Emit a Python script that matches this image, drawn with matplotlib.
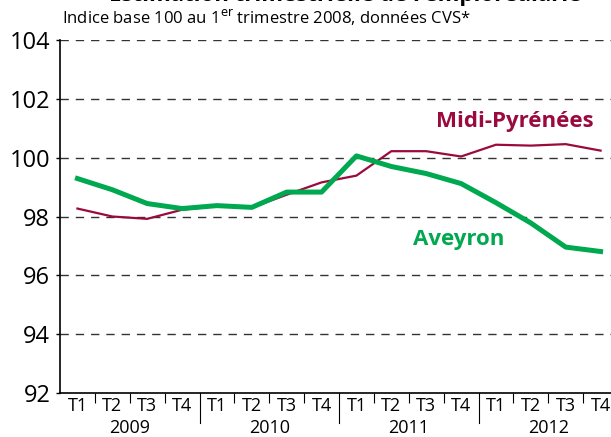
import matplotlib
matplotlib.use('Agg')
import numpy as np
import matplotlib.pyplot as plt

# quarterly index values, base 100 at Q1 2008
quarters = ['T1', 'T2', 'T3', 'T4'] * 4
years = ['2009', '2010', '2011', '2012']
midi_pyrenees = [98.27, 98.00, 97.92, 98.23, 98.35, 98.30, 98.74, 99.16,
                 99.39, 100.22, 100.22, 100.04, 100.44, 100.41, 100.46, 100.24]
aveyron = [99.29, 98.91, 98.44, 98.27, 98.37, 98.31, 98.83, 98.83,
           100.06, 99.70, 99.46, 99.12, 98.47, 97.78, 96.96, 96.81]
yticks = [92, 94, 96, 98, 100, 102, 104]

red = '#9b0a3e'
green = '#00a84f'
plt.rcParams['font.family'] = ['Open Sans', 'DejaVu Sans']

fig = plt.figure(figsize=(6.11, 4.37), dpi=100)
ax = fig.add_axes([60 / 611, 44 / 437, 558 / 611, 353 / 437])

x = np.arange(len(quarters))
ax.plot(x, midi_pyrenees, color=red, lw=1.6, zorder=3)
ax.plot(x, aveyron, color=green, lw=3.6, zorder=4, solid_joinstyle='round')

ax.set_xlim(-0.5, 15.5)
ax.set_ylim(92, 104)
ax.set_yticks(yticks)
ax.set_yticklabels([str(v) for v in yticks], fontsize=17)
ax.tick_params(axis='y', length=3, width=1, pad=4)
for v in yticks[1:]:
    ax.axhline(v, color='#333333', lw=1, ls=(0, (6, 5)), zorder=1)

for s in ['top', 'right']:
    ax.spines[s].set_visible(False)
for s in ['left', 'bottom']:
    ax.spines[s].set_linewidth(1.2)

# quarter separators and year separators below the axis
bounds = np.arange(-0.5, 15.6, 1)
minor = [b for i, b in enumerate(bounds) if i % 4 != 0]
major = [b for i, b in enumerate(bounds) if i % 4 == 0 and i > 0]
ax.set_xticks(major)
ax.set_xticklabels([])
ax.set_xticks(minor, minor=True)
ax.tick_params(axis='x', which='major', direction='in', length=0)
ax.tick_params(axis='x', which='minor', direction='out', length=7, width=0.8)
for b in major:
    ax.plot([b, b], [0, -0.085], transform=ax.get_xaxis_transform(),
            color='black', lw=0.8, clip_on=False)

trans = ax.get_xaxis_transform()
for i, q in enumerate(quarters):
    ax.text(i, -0.012, q, transform=trans, ha='center', va='top', fontsize=13)
for j, yr in enumerate(years):
    ax.text(4 * j + 1.5, -0.074, yr, transform=trans, ha='center', va='top',
            fontsize=13)

ax.text(12.55, 101.22, 'Midi-Pyrénées', color=red, fontsize=16,
        fontweight='bold', ha='center', va='center')
ax.text(10.93, 97.21, 'Aveyron', color=green, fontsize=16,
        fontweight='bold', ha='center', va='center')

fig.text(345 / 611, 1.01, "Estimation trimestrielle de l'emploi salarié",
         ha='center', va='center', fontsize=16, fontweight='bold')
fig.text(62 / 611, 1 - 18 / 437, 'Indice base 100 au 1$^{\\rm er}$ trimestre 2008, données CVS*',
         ha='left', va='center', fontsize=12)

fig.savefig('out.png', dpi=100)
